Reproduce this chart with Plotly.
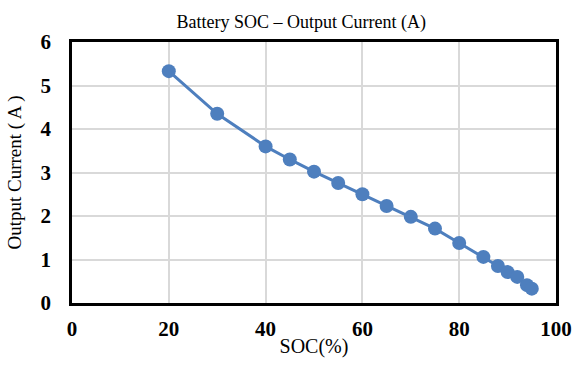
import plotly.graph_objects as go

soc = [20, 30, 40, 45, 50, 55, 60, 65, 70, 75, 80, 85, 88, 90, 92, 94, 95]
current = [5.33, 4.35, 3.60, 3.30, 3.02, 2.76, 2.50, 2.23, 1.98, 1.71, 1.38, 1.06, 0.85, 0.71, 0.60, 0.41, 0.33]
x_ticks = [0, 20, 40, 60, 80, 100]
y_ticks = [0, 1, 2, 3, 4, 5, 6]

color = "#4E7FBE"
font = "Liberation Serif"

fig = go.Figure()
fig.add_trace(go.Scatter(
    x=soc, y=current, mode="lines+markers",
    line=dict(color=color, width=3),
    marker=dict(color=color, size=14),
    showlegend=False,
))

fig.update_layout(
    width=576, height=365,
    margin=dict(l=72, r=20, t=42, b=62),
    paper_bgcolor="white", plot_bgcolor="white",
    font=dict(family=font, color="black"),
    title=dict(text="Battery SOC \u2013 Output Current (A)", x=0.523, xanchor="center",
               y=1 - 22 / 365, yanchor="middle", font=dict(size=18, family=font)),
)
fig.update_xaxes(
    range=[0, 100], tickvals=x_ticks, ticktext=[str(v) for v in x_ticks],
    showgrid=True, gridcolor="#D9D9D9", gridwidth=1.5,
    showline=True, linecolor="black", linewidth=2.5, mirror=True,
    zeroline=False, ticks="", ticklabelstandoff=5, automargin=False,
    tickfont=dict(size=21, family=font, weight="bold"),
    title=dict(text="SOC(%)", font=dict(size=20, family=font), standoff=0),
)
fig.update_yaxes(
    range=[0, 6], tickvals=y_ticks, ticktext=[str(v) for v in y_ticks],
    showgrid=True, gridcolor="#D9D9D9", gridwidth=1.5,
    showline=True, linecolor="black", linewidth=2.5, mirror=True,
    zeroline=False, ticks="", ticklabelstandoff=14, automargin=False,
    tickfont=dict(size=21, family=font, weight="bold"),
    title=dict(text="Output Current ( A )", font=dict(size=19, family=font), standoff=14),
)

fig.write_html("out.html")
